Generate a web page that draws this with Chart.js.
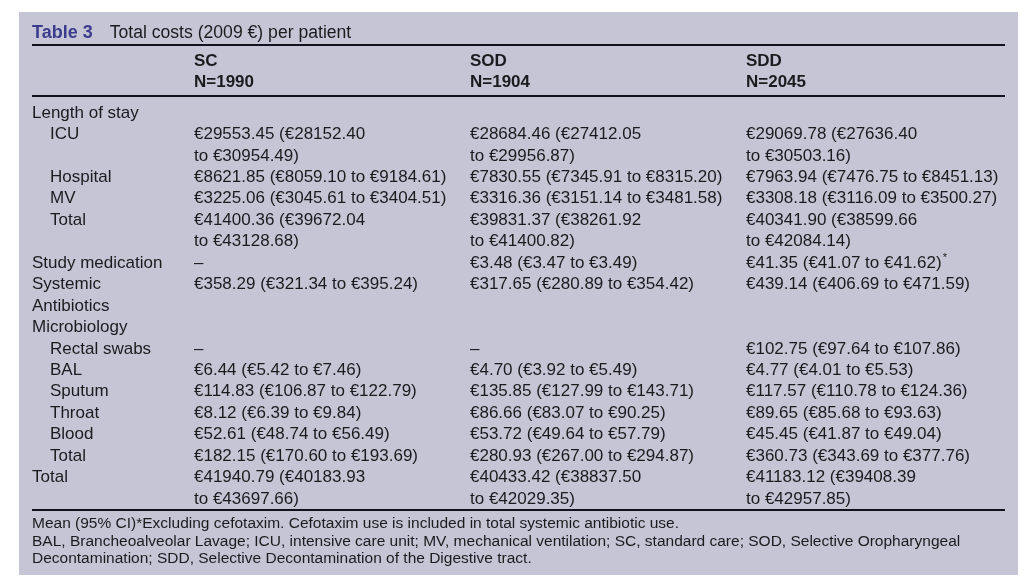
<!DOCTYPE html>
<html>
<head>
<meta charset="utf-8">
<script src="https://cdn.jsdelivr.net/npm/chart.js@4/dist/chart.umd.min.js"></script>
<style>
  html, body { margin: 0; padding: 0; background: #ffffff; }
  #box { position: absolute; left: 19px; top: 12px; width: 999px; height: 563px; background: #c5c5d5; }
  #box canvas { display: block; }
</style>
</head>
<body>
<div id="box"><canvas id="c"></canvas></div>
<script>
const tableNumber = 'Table 3';
const tableTitle = 'Total costs (2009 €) per patient';
const groups = ['SC', 'SOD', 'SDD'];
const groupN = ['N=1990', 'N=1904', 'N=2045'];
const rowLabels = ['Length of stay', 'ICU', '', 'Hospital', 'MV', 'Total', '',
  'Study medication', 'Systemic', 'Antibiotics', 'Microbiology', 'Rectal swabs',
  'BAL', 'Sputum', 'Throat', 'Blood', 'Total', 'Total', ''];
const rowIndent = [0, 1, 1, 1, 1, 1, 1, 0, 0, 0, 0, 1, 1, 1, 1, 1, 1, 0, 0];
const scCells = ['', '€29553.45 (€28152.40', 'to €30954.49)',
  '€8621.85 (€8059.10 to €9184.61)', '€3225.06 (€3045.61 to €3404.51)',
  '€41400.36 (€39672.04', 'to €43128.68)', '–', '€358.29 (€321.34 to €395.24)',
  '', '', '–', '€6.44 (€5.42 to €7.46)', '€114.83 (€106.87 to €122.79)',
  '€8.12 (€6.39 to €9.84)', '€52.61 (€48.74 to €56.49)', '€182.15 (€170.60 to €193.69)',
  '€41940.79 (€40183.93', 'to €43697.66)'];
const sodCells = ['', '€28684.46 (€27412.05', 'to €29956.87)',
  '€7830.55 (€7345.91 to €8315.20)', '€3316.36 (€3151.14 to €3481.58)',
  '€39831.37 (€38261.92', 'to €41400.82)', '€3.48 (€3.47 to €3.49)', '€317.65 (€280.89 to €354.42)',
  '', '', '–', '€4.70 (€3.92 to €5.49)', '€135.85 (€127.99 to €143.71)',
  '€86.66 (€83.07 to €90.25)', '€53.72 (€49.64 to €57.79)', '€280.93 (€267.00 to €294.87)',
  '€40433.42 (€38837.50', 'to €42029.35)'];
const sddCells = ['', '€29069.78 (€27636.40', 'to €30503.16)',
  '€7963.94 (€7476.75 to €8451.13)', '€3308.18 (€3116.09 to €3500.27)',
  '€40341.90 (€38599.66', 'to €42084.14)', '€41.35 (€41.07 to €41.62)*', '€439.14 (€406.69 to €471.59)',
  '', '', '€102.75 (€97.64 to €107.86)', '€4.77 (€4.01 to €5.53)', '€117.57 (€110.78 to €124.36)',
  '€89.65 (€85.68 to €93.63)', '€45.45 (€41.87 to €49.04)', '€360.73 (€343.69 to €377.76)',
  '€41183.12 (€39408.39', 'to €42957.85)'];
const footnotes = [
  'Mean (95% CI)*Excluding cefotaxim. Cefotaxim use is included in total systemic antibiotic use.',
  'BAL, Brancheoalveolar Lavage; ICU, intensive care unit; MV, mechanical ventilation; SC, standard care; SOD, Selective Oropharyngeal',
  'Decontamination; SDD, Selective Decontamination of the Digestive tract.'
];

// ---- Styles ----
const FONT = '"Liberation Sans", Arial, Helvetica, sans-serif';
const TEXT = '#1b1b1f';
const BLUE = '#3c3c8e';
const RULE = '#12121c';

const columns = [scCells, sodCells, sddCells];
const datasets = columns.map((cells, c) => ({
  label: groups[c],
  texts: cells,
  data: cells.map((t, r) => ({ x: c, y: r })),
  pointRadius: 0,
  showLine: false
}));

const tablePlugin = {
  id: 'tableText',
  afterDraw(chart) {
    const ctx = chart.ctx;
    const ca = chart.chartArea;
    const xs = chart.scales.x;
    const ruleLeft = ca.left - 162;
    const ruleRight = ca.right + 259;
    const dy = 1;
    ctx.save();
    ctx.textAlign = 'left';
    ctx.textBaseline = 'middle';

    // title
    ctx.font = 'bold 18px ' + FONT;
    ctx.fillStyle = BLUE;
    ctx.fillText(tableNumber, ruleLeft, ca.top - 80 + dy);
    const w = ctx.measureText(tableNumber).width;
    ctx.font = '17.6px ' + FONT;
    ctx.fillStyle = TEXT;
    ctx.fillText(tableTitle, ruleLeft + w + 17, ca.top - 80 + dy);

    // rules
    ctx.strokeStyle = RULE;
    ctx.lineWidth = 2;
    [ca.top - 67, ca.top - 16, ca.bottom + 12].forEach(y => {
      ctx.beginPath();
      ctx.moveTo(ruleLeft, y);
      ctx.lineTo(ruleRight, y);
      ctx.stroke();
    });

    // column headers
    ctx.font = 'bold 17px ' + FONT;
    ctx.fillStyle = TEXT;
    groups.forEach((g, i) => {
      const x = xs.getPixelForValue(i);
      ctx.fillText(g, x, ca.top - 52 + dy);
      ctx.fillText(groupN[i], x, ca.top - 31 + dy);
    });

    // row labels
    ctx.font = '17px ' + FONT;
    const ys = chart.scales.y;
    rowLabels.forEach((lab, r) => {
      if (!lab) return;
      ctx.fillText(lab, ruleLeft + rowIndent[r] * 18, ys.getPixelForValue(r) + dy);
    });

    // cells
    chart.data.datasets.forEach((ds, di) => {
      const meta = chart.getDatasetMeta(di);
      meta.data.forEach((el, i) => {
        let t = ds.texts[i];
        if (!t) return;
        let star = false;
        if (t.endsWith('*')) { star = true; t = t.slice(0, -1); }
        ctx.font = '17px ' + FONT;
        ctx.fillText(t, el.x, el.y + dy);
        if (star) {
          const tw = ctx.measureText(t).width;
          ctx.font = '11px ' + FONT;
          ctx.fillText('*', el.x + tw + 1, el.y - 5 + dy);
        }
      });
    });

    // footnotes
    ctx.font = '15.5px ' + FONT;
    footnotes.forEach((f, i) => {
      ctx.fillText(f, ruleLeft, ca.bottom + 26 + i * 17.5);
    });
    ctx.restore();
  }
};

new Chart(document.getElementById('c'), {
  type: 'scatter',
  data: { datasets },
  options: {
    responsive: true,
    maintainAspectRatio: false,
    animation: false,
    events: [],
    layout: { padding: { left: 175, right: 272, top: 100, bottom: 77 } },
    plugins: { legend: { display: false }, tooltip: { enabled: false }, title: { display: false } },
    scales: {
      x: { type: 'linear', min: 0, max: groups.length - 1, display: false },
      y: { type: 'linear', min: 0, max: rowLabels.length - 1, reverse: true, display: false }
    }
  },
  plugins: [tablePlugin]
});
</script>
</body>
</html>
